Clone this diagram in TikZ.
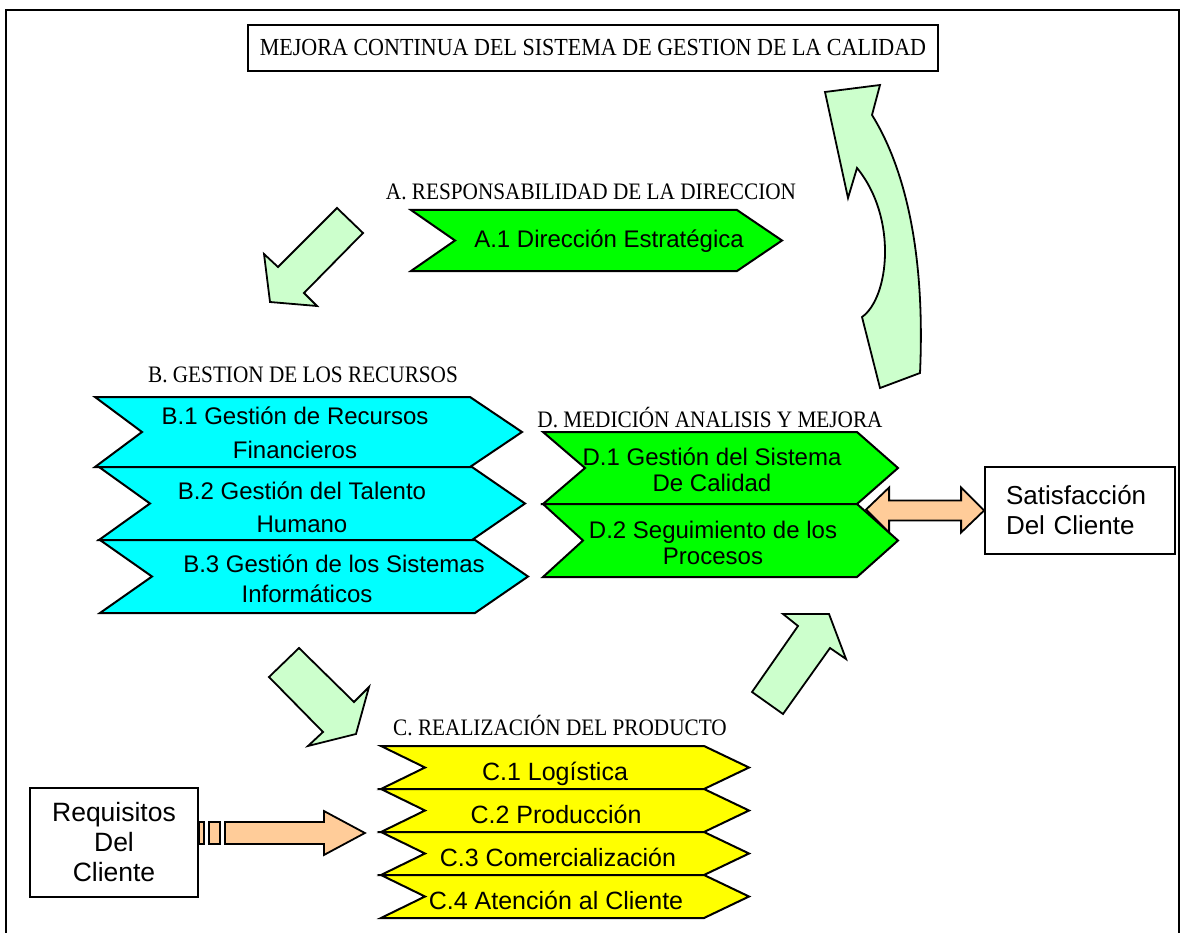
\documentclass[tikz,border=0pt]{standalone}
\usepackage{fontspec}
\setmainfont{Liberation Sans}
\newfontfamily\headfont[FakeStretch=0.9]{Liberation Serif}
\usetikzlibrary{calc}

\definecolor{chevgreen}{HTML}{00FF00}
\definecolor{chevcyan}{HTML}{00FFFF}
\definecolor{chevyellow}{HTML}{FFFF00}
\definecolor{flowgreen}{HTML}{CCFFCC}
\definecolor{flowpeach}{HTML}{FFCC99}

% chevron: fill, left x, right corner x, top y, bottom y, notch depth, tip depth
\newcommand{\chevshape}[7]{%
  \filldraw[chevron, fill=#1] (#2,#4) -- (#3,#4) -- ({#3+#7},{(#4+#5)/2})
    -- (#3,#5) -- (#2,#5) -- ({#2+#6},{(#4+#5)/2}) -- cycle;}

\begin{document}
\begin{tikzpicture}[x=1pt, y=-1pt,
  chevron/.style={draw=black, line width=2pt, line join=miter},
  flowarrow/.style={draw=black, fill=flowgreen, line width=1.8pt, line join=miter},
  peacharrow/.style={draw=black, fill=flowpeach, line width=1.8pt, line join=miter},
  headtitle/.style={font=\headfont\fontsize{23.6}{26}\selectfont, inner sep=0pt},
  chevtext/.style={font=\fontsize{24}{27}\selectfont, align=center, inner sep=0pt},
  ctext/.style={font=\fontsize{25}{28}\selectfont, inner sep=0pt, anchor=base},
  framebox/.style={draw=black, line width=1.8pt, fill=white}]

\useasboundingbox (0,0) rectangle (1182,933);

% page frame
\draw[line width=2pt] (6,933) -- (6,10) -- (1179,10) -- (1179,933);

% top box
\node[framebox, minimum width=690pt, minimum height=46pt, inner sep=0pt,
      font=\headfont\fontsize{24.5}{26}\selectfont] (mejora) at (593,48)
  {MEJORA CONTINUA DEL SISTEMA DE GESTION DE LA CALIDAD};

% curved return arrow
\filldraw[flowarrow] (825,92) -- (880,85) -- (872,115)
  .. controls (900,160) and (926,240) .. (920,373)
  -- (880,388) -- (862,317)
  .. controls (889,298) and (898,218) .. (857,168)
  -- (848,198) -- cycle;

% A: management responsibility
\node[headtitle] (titleA) at (591,192) {A. RESPONSABILIDAD DE LA DIRECCION};
\chevshape{chevgreen}{411}{737}{210}{271}{44}{45}
\node[chevtext] (a1) at (609,241) {A.1 Dirección Estratégica};

% arrow A -> B
\filldraw[flowarrow] (337,208) -- (363,233) -- (304,293) -- (317,306)
  -- (270,302) -- (264,254) -- (278,267) -- cycle;

% B: resource management
\node[headtitle] (titleB) at (303,375) {B. GESTION DE LOS RECURSOS};
\chevshape{chevcyan}{95}{470}{397}{467}{47}{52}
\node[chevtext, font=\fontsize{24}{34}\selectfont] (b1) at (295,433)
  {B.1 Gestión de Recursos\\Financieros};
\chevshape{chevcyan}{99}{472}{467}{540}{51}{53}
\node[chevtext, font=\fontsize{24}{33}\selectfont] (b2) at (302,507)
  {B.2 Gestión del Talento\\Humano};
\chevshape{chevcyan}{100}{475}{540}{613}{52}{53}
\node[chevtext, font=\fontsize{24}{30}\selectfont] (b3) at (307,579)
  {\hspace*{54pt}B.3 Gestión de los Sistemas\\Informáticos};

% D: measurement, analysis and improvement
\node[headtitle] (titleD) at (710,418) {D. MEDICIÓN ANALISIS Y MEJORA};
\chevshape{chevgreen}{543}{857}{432}{504}{42}{41}
\node[chevtext, font=\fontsize{24}{26}\selectfont] (d1) at (712,470)
  {D.1 Gestión del Sistema\\De Calidad};
\chevshape{chevgreen}{543}{857}{504}{577}{40}{41}
\node[chevtext, font=\fontsize{24}{26}\selectfont] (d2) at (713,543)
  {D.2 Seguimiento de los\\Procesos};

% customer satisfaction
\node[framebox, minimum height=87pt, inner xsep=21pt, inner ysep=0pt,
      text width=148pt, align=left, font=\fontsize{26}{30}\selectfont]
  (sat) at (1080,510.5) {Satisfacción\\Del Cliente};
\begin{scope}[shift={(sat.west)}]
  \filldraw[peacharrow] (-118,-1) -- (-95,-23) -- (-95,-10) -- (-23,-10)
    -- (-23,-23) -- (0,0) -- (-23,22) -- (-23,10) -- (-95,10) -- (-95,22) -- cycle;
\end{scope}

% arrow B -> C
\filldraw[flowarrow] (299,648) -- (269,677) -- (323,732) -- (308,746)
  -- (356,734) -- (369,687) -- (354,702) -- cycle;

% arrow C -> D
\filldraw[flowarrow] (752,692) -- (783,714) -- (830,648) -- (846,659)
  -- (829,614) -- (783,614) -- (798,626) -- cycle;

% C: product realisation, each row drawn with its label
\node[headtitle] (titleC) at (560,726) {C. REALIZACIÓN DEL PRODUCTO};
\chevshape{chevyellow}{381}{704}{746}{789}{44}{45}
\node[ctext] (c1) at (555,780) {C.1 Logística};
\chevshape{chevyellow}{381}{704}{789}{832}{44}{45}
\node[ctext] (c2) at (556,823) {C.2 Producción};
\chevshape{chevyellow}{381}{704}{832}{875}{44}{45}
\node[ctext] (c3) at (558,866) {C.3 Comercialización};
\chevshape{chevyellow}{381}{704}{875}{918}{44}{45}
\node[ctext] (c4) at (556,909) {C.4 Atención al Cliente};

% customer requirements
\node[framebox, minimum width=168pt, minimum height=109pt, inner sep=0pt,
      align=center, font=\fontsize{26.5}{30}\selectfont]
  (req) at (114,842.5) {Requisitos\\Del\\Cliente};
\begin{scope}[shift={(req.east)}]
  \filldraw[peacharrow] (0,-20.5) rectangle (5,1.5);
  \filldraw[peacharrow] (10,-20.5) rectangle (21,1.5);
  \filldraw[peacharrow] (26,-20.5) -- (125,-20.5) -- (125,-31.5) -- (166,-9.5)
    -- (125,12.5) -- (125,1.5) -- (26,1.5) -- cycle;
\end{scope}

\end{tikzpicture}
\end{document}
